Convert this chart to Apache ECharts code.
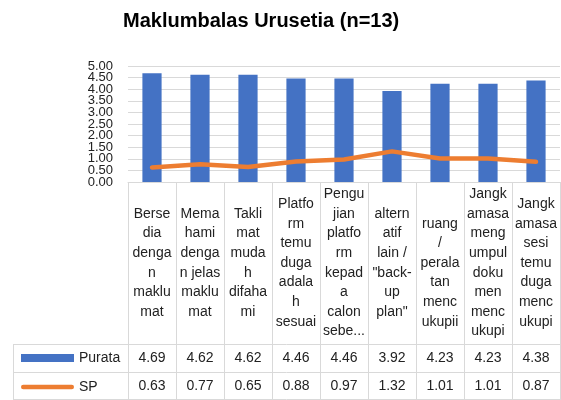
<!DOCTYPE html>
<html>
<head>
<meta charset="utf-8">
<script src="https://cdn.jsdelivr.net/npm/echarts@6/dist/echarts.min.js"></script>
<style>
  html, body { margin: 0; padding: 0; background: #fff; }
  #chart { width: 561px; height: 400px; }
</style>
</head>
<body>
<div id="chart"></div>
<script>
// labels as they are wrapped in the data table cells
const categories = [
  "Berse\ndia\ndenga\nn\nmaklu\nmat",
  "Mema\nhami\ndenga\nn jelas\nmaklu\nmat",
  "Takli\nmat\nmuda\nh\ndifaha\nmi",
  "Platfo\nrm\ntemu\nduga\nadala\nh\nsesuai",
  "Pengu\njian\nplatfo\nrm\nkepad\na\ncalon\nsebe...",
  "altern\natif\nlain /\n\"back-\nup\nplan\"",
  "\nruang\n/\nperala\ntan\nmenc\nukupii",
  "Jangk\namasa\nmeng\numpul\ndoku\nmen\nmenc\nukupi",
  "Jangk\namasa\nsesi\ntemu\nduga\nmenc\nukupi"
];
const purata = [4.69, 4.62, 4.62, 4.46, 4.46, 3.92, 4.23, 4.23, 4.38];
const sp = [0.63, 0.77, 0.65, 0.88, 0.97, 1.32, 1.01, 1.01, 0.87];
const yMin = 0, yMax = 5, yStep = 0.5;

const font = "Liberation Sans";
const textColor = "#222";
const border = "#d9d9d9";

// layout
const gridLeft = 128, gridRight = 1, gridTop = 66, axisY = 182;
const catRowH = 162, rowH = 28, tableLeft = 13, W = 561, H = 400;
const row1Y = axisY + catRowH;       // top of Purata row
const row2Y = row1Y + rowH;          // top of SP row

const chart = echarts.init(document.getElementById("chart"));

function hLine(y) {
  return {
    type: "line",
    shape: { x1: tableLeft, y1: y, x2: W - gridRight, y2: y },
    style: { stroke: border, lineWidth: 1 },
    silent: true
  };
}

const yLabel = { margin: 15, fontFamily: font, fontSize: 13, color: textColor };

const option = {
  animation: false,
  title: {
    text: "Maklumbalas Urusetia (n=13)",
    left: 118,
    top: 6,
    textStyle: { fontFamily: font, fontWeight: "bold", fontSize: 20, color: "#000" }
  },
  legend: {
    orient: "vertical",
    left: 21,
    top: row1Y + 7,
    padding: 0,
    itemWidth: 53,
    itemHeight: 8,
    itemGap: 15,
    textStyle: { fontFamily: font, fontSize: 14, color: textColor },
    data: [
      { name: "Purata", icon: "rect" },
      { name: "SP", icon: "path://M0,0 M0,8 M2.25,1.75 L50.75,1.75 A2.25,2.25 0 0 1 50.75,6.25 L2.25,6.25 A2.25,2.25 0 0 1 2.25,1.75 Z" }
    ]
  },
  grid: {
    left: gridLeft,
    right: gridRight,
    top: gridTop,
    bottom: H - axisY,
    outerBoundsMode: "none"
  },
  xAxis: [
    {
      type: "category",
      position: "bottom",
      data: categories,
      axisLine: { lineStyle: { color: border } },
      axisTick: { show: true, interval: 0, length: H - axisY, lineStyle: { color: border } },
      axisLabel: {
        interval: 0,
        margin: catRowH / 2,
        verticalAlign: "middle",
        lineHeight: 19.6,
        fontFamily: font,
        fontSize: 14,
        color: textColor
      }
    },
    {
      type: "category",
      position: "bottom",
      data: purata.map(v => v.toFixed(2)),
      axisLine: { show: false },
      axisTick: { show: false },
      axisLabel: {
        interval: 0,
        margin: catRowH + rowH / 2,
        verticalAlign: "middle",
        fontFamily: font,
        fontSize: 14,
        color: textColor
      }
    },
    {
      type: "category",
      position: "bottom",
      data: sp.map(v => v.toFixed(2)),
      axisLine: { show: false },
      axisTick: { show: false },
      axisLabel: {
        interval: 0,
        margin: catRowH + rowH * 1.5,
        verticalAlign: "middle",
        fontFamily: font,
        fontSize: 14,
        color: textColor
      }
    }
  ],
  yAxis: [
    {
      // inner ticks 0.50 .. 4.50
      type: "value",
      position: "left",
      min: yMin,
      max: yMax,
      interval: yStep,
      axisLine: { show: false },
      axisTick: { show: false },
      splitLine: { lineStyle: { color: border, width: 1 } },
      axisLabel: Object.assign({
        showMinLabel: false,
        showMaxLabel: false,
        formatter: v => v.toFixed(2)
      }, yLabel)
    },
    {
      // end ticks 0.00 and 5.00
      type: "value",
      position: "left",
      min: yMin,
      max: yMax,
      interval: yStep,
      axisLine: { show: false },
      axisTick: { show: false },
      splitLine: { show: false },
      axisLabel: Object.assign({
        showMinLabel: true,
        showMaxLabel: true,
        formatter: v => (v === yMin || v === yMax) ? v.toFixed(2) : ""
      }, yLabel)
    }
  ],
  series: [
    {
      name: "Purata",
      type: "bar",
      data: purata,
      barWidth: "40%",
      itemStyle: { color: "#4472C4" }
    },
    {
      name: "SP",
      type: "line",
      data: sp,
      symbol: "none",
      lineStyle: { color: "#ED7D31", width: 4.5, cap: "round", join: "round" },
      itemStyle: { color: "#ED7D31" }
    }
  ],
  graphic: [
    hLine(row1Y + 0.5),
    hLine(row2Y + 0.5),
    hLine(H - 0.5),
    {
      type: "line",
      shape: { x1: tableLeft + 0.5, y1: row1Y, x2: tableLeft + 0.5, y2: H },
      style: { stroke: border, lineWidth: 1 },
      silent: true
    }
  ]
};

chart.setOption(option);
</script>
</body>
</html>
